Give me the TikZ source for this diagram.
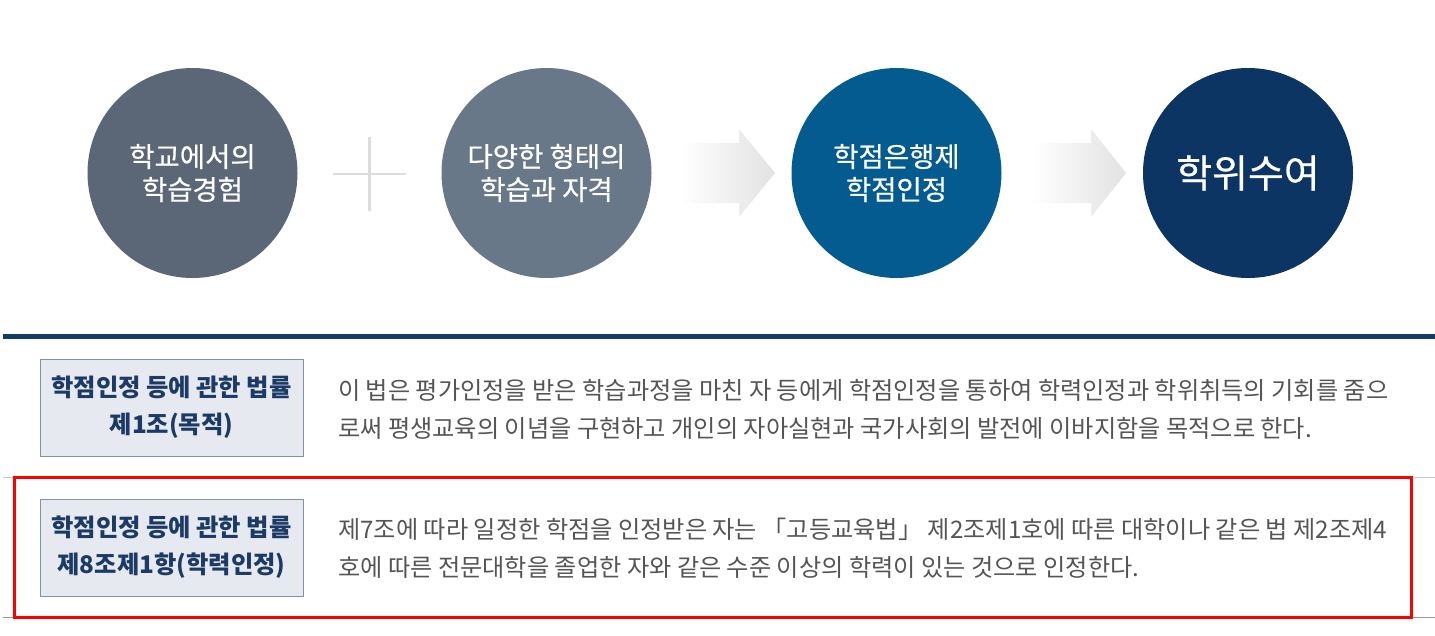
\documentclass[tikz,border=0pt]{standalone}
\usepackage{fontspec}
\setmainfont{Noto Sans CJK KR}
\newfontfamily\circfont[BoldFont={Noto Sans CJK KR},BoldFeatures={FakeBold=0.5}]{Noto Sans CJK KR}
\usetikzlibrary{shadings}
\definecolor{cA}{HTML}{5B6776}
\definecolor{cB}{HTML}{687888}
\definecolor{cC}{HTML}{035B90}
\definecolor{cD}{HTML}{0C3563}
\definecolor{navy}{HTML}{143A66}
\definecolor{boxfill}{HTML}{E6E9EF}
\definecolor{boxdraw}{HTML}{7F93AD}
\definecolor{boxtext}{HTML}{1C3A66}
\definecolor{bodytext}{HTML}{555555}
\definecolor{plusgray}{HTML}{DCDCDC}
\definecolor{arrowgray}{HTML}{E2E2E2}
\tikzset{
  stagecircle/.style={circle, minimum size=210pt, inner sep=0pt, text=white, align=center, font=\circfont\bfseries\fontsize{27.5}{33}\selectfont},
  lawbox/.style={draw=boxdraw, fill=boxfill, line width=0.8pt, minimum width=263pt, minimum height=97pt, inner sep=0pt, text=boxtext, align=center, font=\fontsize{24.3}{37}\selectfont\bfseries},
  bodyline/.style={anchor=west, inner sep=0pt, text=bodytext, font=\fontsize{24.2}{28}\selectfont},
  flowarrow/.style={left color=white, right color=arrowgray, draw=none},
}
\begin{document}
\begin{tikzpicture}[x=1pt,y=-1pt]
\useasboundingbox[fill=white] (0,0) rectangle (1435,635);
% circles
\node[stagecircle, fill=cA] (c1) at (192.5,173) {학교에서의\\학습경험};
\node[stagecircle, fill=cB] (c2) at (546.5,173) {다양한 형태의\\학습과 자격};
\node[stagecircle, fill=cC] (c3) at (896.5,173) {학점은행제\\학점인정};
\node[stagecircle, fill=cD, font=\circfont\bfseries\fontsize{39}{44}\selectfont] (c4) at (1248,173) {학위수여};
% plus sign
\draw[plusgray, line width=2.5pt] (333,174) -- (406,174) (369.5,137) -- (369.5,211);
% gradient arrows
\path[flowarrow] (680,143) -- (739,143) -- (739,129) -- (775,173) -- (739,217) -- (739,203) -- (680,203) -- cycle;
\path[flowarrow] (1031,143) -- (1091,143) -- (1091,129) -- (1126,173) -- (1091,217) -- (1091,203) -- (1031,203) -- cycle;
% divider
\draw[navy, line width=5pt] (3,336.5) -- (1435,336.5);
% row 1
\node[lawbox] (b1) at (171.5,407.5) {학점인정 등에 관한 법률\\제1조(목적)};
\node[bodyline] (t1a) at (338,390) {이 법은 평가인정을 받은 학습과정을 마친 자 등에게 학점인정을 통하여 학력인정과 학위취득의 기회를 줌으};
\node[bodyline] (t1b) at (338,428) {로써 평생교육의 이념을 구현하고 개인의 자아실현과 국가사회의 발전에 이바지함을 목적으로 한다.};
% row separators
\draw[black!22, line width=1pt] (3,477) -- (1435,477);
\draw[black!40, line width=1pt] (3,617) -- (1435,617);
% row 2
\node[lawbox] (b2) at (171.5,547.5) {학점인정 등에 관한 법률\\제8조제1항(학력인정)};
\node[bodyline] (t2a) at (338,529) {제7조에 따라 일정한 학점을 인정받은 자는 「고등교육법」 제2조제1호에 따른 대학이나 같은 법 제2조제4};
\node[bodyline] (t2b) at (338,567) {호에 따른 전문대학을 졸업한 자와 같은 수준 이상의 학력이 있는 것으로 인정한다.};
% highlight
\draw[red, line width=3pt] (14,477) rectangle (1411,617.5);
\end{tikzpicture}
\end{document}
